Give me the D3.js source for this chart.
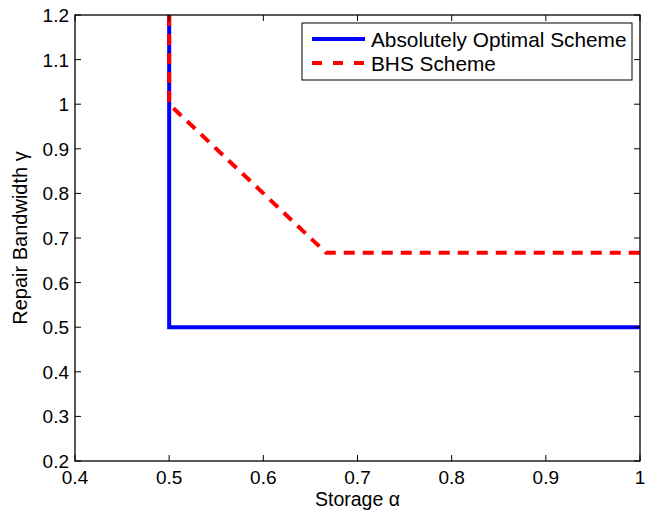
<!DOCTYPE html>
<html><head><meta charset="utf-8">
<script src="https://cdn.jsdelivr.net/npm/d3@7"></script>
<style>body{margin:0;background:#fff}svg{display:block}text{font-family:"Liberation Sans",Arial,sans-serif}</style>
</head><body>
<script>
const xTicks=[0.4,0.5,0.6,0.7,0.8,0.9,1];
const yTicks=[0.2,0.3,0.4,0.5,0.6,0.7,0.8,0.9,1,1.1,1.2];
const optimalAlpha=[0.5,0.5,1];
const optimalGamma=[1.2,0.5,0.5];
const bhsAlpha=[0.5,0.5,0.6667,1];
const bhsGamma=[1.2,1.0,0.6667,0.6667];
const seriesNames=["Absolutely Optimal Scheme","BHS Scheme"];

const W=649,H=510,L=75,R=640,T=15,B=461;
const svg=d3.select("body").append("svg").attr("width",W).attr("height",H);
const x=d3.scaleLinear().domain([0.4,1]).range([L,R]);
const y=d3.scaleLinear().domain([0.2,1.2]).range([B,T]);
const fmt=d=>String(+d.toFixed(2));

const line=d3.line().x(d=>x(d[0])).y(d=>y(d[1]));
svg.append("clipPath").attr("id","c").append("rect").attr("x",L).attr("y",T).attr("width",R-L).attr("height",B-T);
const g=svg.append("g").attr("clip-path","url(#c)");
g.append("path").datum(optimalAlpha.map((a,i)=>[a,optimalGamma[i]])).attr("d",line)
 .attr("fill","none").attr("stroke","#0000ff").attr("stroke-width",4);
g.append("path").datum(bhsAlpha.map((a,i)=>[a,bhsGamma[i]])).attr("d",line)
 .attr("fill","none").attr("stroke","#ff0000").attr("stroke-width",4).attr("stroke-dasharray","11,8");

const ax=svg.append("g");
ax.append("rect").attr("x",L).attr("y",T).attr("width",R-L).attr("height",B-T).attr("fill","none").attr("stroke","#000").attr("stroke-width",1.3);
xTicks.forEach(t=>{
  ax.append("line").attr("x1",x(t)).attr("x2",x(t)).attr("y1",B).attr("y2",B-6).attr("stroke","#000");
  ax.append("line").attr("x1",x(t)).attr("x2",x(t)).attr("y1",T).attr("y2",T+6).attr("stroke","#000");
  ax.append("text").attr("x",x(t)).attr("y",B+23).attr("text-anchor","middle").attr("font-size",19).text(fmt(t));
});
yTicks.forEach(t=>{
  ax.append("line").attr("x1",L).attr("x2",L+6).attr("y1",y(t)).attr("y2",y(t)).attr("stroke","#000");
  ax.append("line").attr("x1",R).attr("x2",R-6).attr("y1",y(t)).attr("y2",y(t)).attr("stroke","#000");
  ax.append("text").attr("x",L-6).attr("y",y(t)+7).attr("text-anchor","end").attr("font-size",19).text(fmt(t));
});
svg.append("text").attr("x",(L+R)/2).attr("y",506).attr("text-anchor","middle").attr("font-size",19.5).text("Storage α");
svg.append("text").attr("transform",`translate(27,${(T+B)/2}) rotate(-90)`).attr("text-anchor","middle").attr("font-size",20).text("Repair Bandwidth γ");

const lg=svg.append("g");
lg.append("rect").attr("x",302).attr("y",23).attr("width",330).attr("height",57).attr("fill","#fff").attr("stroke","#000").attr("stroke-width",1);
[["#0000ff",null,39],["#ff0000","10,11",63]].forEach((s,i)=>{
  const l=lg.append("line").attr("x1",312).attr("x2",365).attr("y1",s[2]).attr("y2",s[2]).attr("stroke",s[0]).attr("stroke-width",4);
  if(s[1]) l.attr("stroke-dasharray",s[1]);
  lg.append("text").attr("x",371).attr("y",s[2]+8).attr("font-size",20.8).text(seriesNames[i]);
});
</script>
</body></html>
